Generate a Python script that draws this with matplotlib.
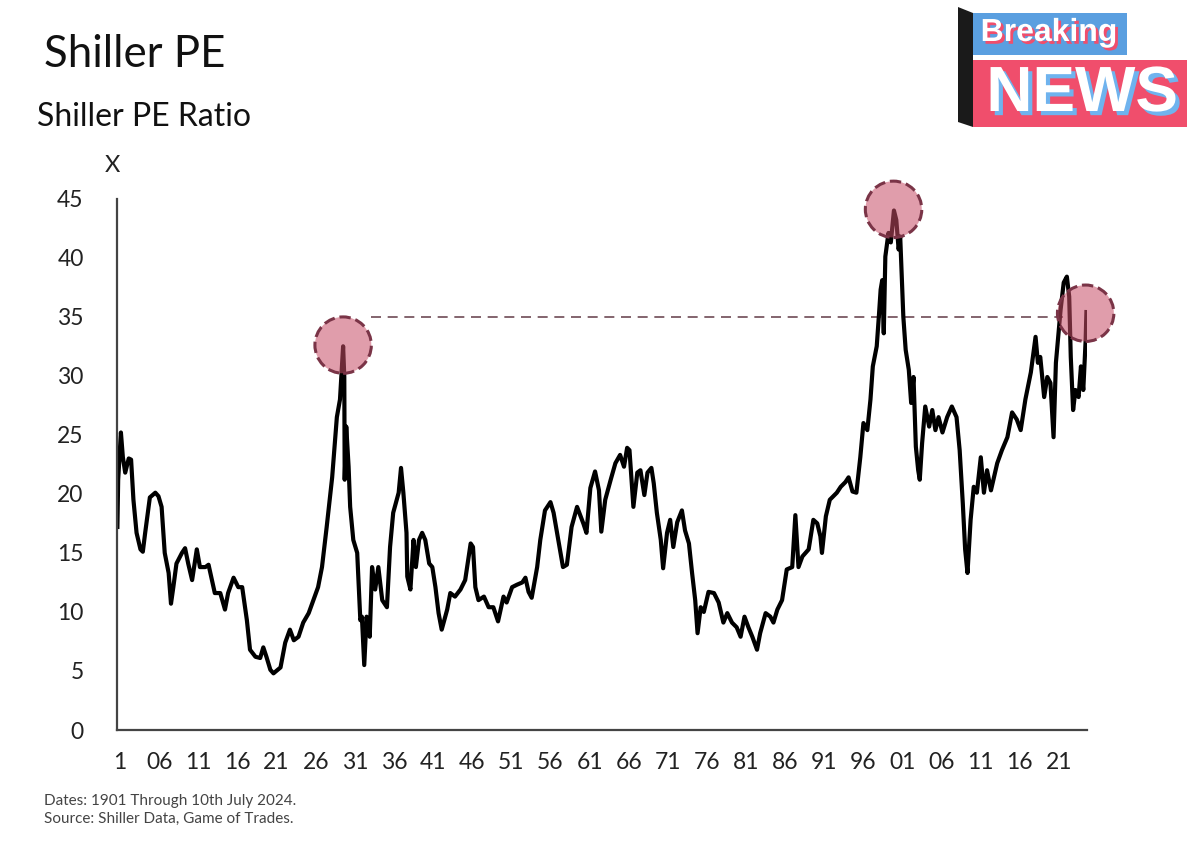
import numpy as np
import matplotlib
matplotlib.use("Agg")
import matplotlib.pyplot as plt
import matplotlib.patheffects as pe
from matplotlib.patches import Polygon, Rectangle

plt.rcParams['font.family'] = ['Lato', 'DejaVu Sans']

# Shiller PE (year, ratio)
years = [1900.65, 1900.75, 1901.1, 1901.35, 1901.65, 1902.1, 1902.4, 1902.7, 1903.1, 1903.6,
         1903.9, 1904.2, 1904.8, 1905.5, 1905.9, 1906.3, 1906.7, 1907.2, 1907.5, 1907.8,
         1908.2, 1908.9, 1909.3, 1909.7, 1910.2, 1910.8, 1911.2, 1911.9, 1912.3, 1913.1,
         1913.8, 1914.4, 1914.8, 1915.5, 1916.1, 1916.6, 1917.2, 1917.6, 1918.3, 1918.9,
         1919.3, 1919.7, 1920.2, 1920.6, 1921.5, 1922.1, 1922.7, 1923.2, 1923.8, 1924.4,
         1925.1, 1925.7, 1926.3, 1926.8, 1927.4, 1928.1, 1928.7, 1929.1, 1929.5, 1929.65,
         1929.7, 1929.9, 1930.2, 1930.4, 1930.8, 1931.3, 1931.7, 1931.9, 1932.2, 1932.5,
         1932.9, 1933.2, 1933.6, 1934.0, 1934.5, 1935.1, 1935.5, 1935.9, 1936.6, 1936.9,
         1937.2, 1937.6, 1937.7, 1938.1, 1938.5, 1938.8, 1939.2, 1939.6, 1940.0, 1940.5,
         1940.9, 1941.3, 1941.7, 1942.1, 1942.8, 1943.2, 1943.8, 1944.5, 1945.1, 1945.8,
         1946.1, 1946.4, 1946.8, 1947.5, 1948.1, 1948.7, 1949.3, 1950.0, 1950.4, 1951.1,
         1951.7, 1952.4, 1952.8, 1953.2, 1953.6, 1954.3, 1954.7, 1955.3, 1956.0, 1956.4,
         1957.0, 1957.6, 1958.1, 1958.7, 1959.4, 1959.8, 1960.2, 1960.6, 1961.1, 1961.7,
         1962.2, 1962.5, 1963.0, 1963.7, 1964.3, 1964.9, 1965.4, 1965.8, 1966.1, 1966.6,
         1967.1, 1967.5, 1968.0, 1968.4, 1968.9, 1969.2, 1969.6, 1970.1, 1970.4, 1970.9,
         1971.3, 1971.7, 1972.2, 1972.8, 1973.2, 1973.7, 1974.1, 1974.5, 1974.8, 1975.2,
         1975.6, 1976.2, 1976.9, 1977.5, 1978.1, 1978.6, 1979.2, 1979.8, 1980.3, 1980.8,
         1981.3, 1981.8, 1982.4, 1982.8, 1983.5, 1984.1, 1984.5, 1985.0, 1985.6, 1986.2,
         1986.9, 1987.3, 1987.7, 1988.2, 1989.0, 1989.6, 1990.1, 1990.5, 1990.7, 1991.2,
         1991.7, 1992.6, 1993.1, 1993.7, 1994.1, 1994.6, 1995.1, 1995.6, 1996.0, 1996.5,
         1996.9, 1997.2, 1997.7, 1998.0, 1998.2, 1998.4, 1998.6, 1998.8, 1999.2, 1999.5,
         1999.9, 2000.2, 2000.5, 2000.7, 2001.1, 2001.4, 2001.8, 2002.1, 2002.4, 2002.7,
         2003.0, 2003.2, 2003.5, 2003.9, 2004.4, 2004.8, 2005.2, 2005.6, 2006.1, 2006.7,
         2007.3, 2007.9, 2008.3, 2008.7, 2009.0, 2009.3, 2009.7, 2010.1, 2010.5, 2011.0,
         2011.4, 2011.8, 2012.3, 2013.1, 2013.7, 2014.4, 2015.0, 2015.6, 2016.1, 2016.7,
         2017.4, 2018.0, 2018.3, 2018.6, 2019.1, 2019.5, 2019.9, 2020.3, 2020.6, 2021.2,
         2021.6, 2022.0, 2022.3, 2022.5, 2022.8, 2023.1, 2023.5, 2023.8, 2024.1, 2024.4,
         2024.5]
pe_ratio = [17.2, 21.2, 25.2, 23.1, 21.8, 23.0, 22.9, 19.5, 16.7, 15.3,
            15.1, 16.7, 19.7, 20.1, 19.8, 18.9, 15.0, 13.3, 10.7, 12.1,
            14.1, 15.0, 15.4, 14.1, 12.7, 15.3, 13.8, 13.8, 14.0, 11.6,
            11.6, 10.2, 11.6, 12.9, 12.1, 12.1, 9.3, 6.8, 6.2, 6.1,
            7.0, 6.2, 5.1, 4.8, 5.3, 7.4, 8.5, 7.6, 7.9, 9.1,
            9.9, 11.0, 12.1, 13.8, 17.2, 21.4, 26.5, 28.0, 32.5, 29.9,
            21.2, 25.7, 22.3, 18.9, 16.1, 15.0, 9.3, 9.6, 5.5, 9.6,
            7.9, 13.8, 11.9, 13.8, 11.0, 10.4, 15.5, 18.4, 20.1, 22.2,
            20.1, 16.7, 13.0, 11.9, 16.1, 13.8, 16.1, 16.7, 16.1, 14.1,
            13.8, 12.1, 9.9, 8.5, 10.2, 11.6, 11.3, 11.9, 12.7, 15.8,
            15.5, 12.1, 11.0, 11.3, 10.4, 10.4, 9.2, 11.3, 10.8, 12.1,
            12.3, 12.5, 12.9, 11.7, 11.2, 13.8, 16.1, 18.6, 19.3, 18.4,
            16.1, 13.8, 14.0, 17.2, 18.9, 18.2, 17.5, 16.7, 20.5, 21.9,
            20.3, 16.8, 19.5, 21.2, 22.6, 23.3, 22.3, 23.9, 23.7, 18.9,
            21.8, 22.0, 19.9, 21.8, 22.2, 20.9, 18.4, 16.1, 13.7, 16.7,
            17.8, 15.5, 17.6, 18.6, 16.9, 15.8, 13.3, 11.0, 8.2, 10.4,
            10.0, 11.7, 11.6, 10.8, 9.1, 9.9, 9.1, 8.7, 7.9, 9.6,
            8.7, 7.9, 6.8, 8.2, 9.9, 9.6, 9.1, 10.2, 11.0, 13.6,
            13.8, 18.2, 13.8, 14.7, 15.3, 17.8, 17.5, 16.4, 15.0, 18.1,
            19.5, 20.1, 20.6, 21.0, 21.4, 20.2, 20.1, 23.1, 26.0, 25.4,
            28.0, 30.8, 32.5, 35.3, 37.3, 38.1, 33.6, 40.1, 42.1, 41.3,
            44.0, 43.2, 40.7, 41.8, 35.0, 32.2, 30.5, 27.7, 29.9, 24.0,
            22.0, 21.2, 24.3, 27.4, 25.7, 27.1, 25.4, 26.5, 25.2, 26.5,
            27.4, 26.5, 23.7, 19.2, 15.3, 13.3, 17.8, 20.6, 20.1, 23.1,
            20.1, 22.0, 20.3, 22.6, 23.7, 24.8, 26.9, 26.3, 25.4, 28.0,
            30.3, 33.3, 31.1, 31.6, 28.2, 29.9, 29.4, 24.8, 31.1, 35.6,
            37.9, 38.4, 36.7, 31.6, 27.1, 28.8, 28.2, 30.8, 28.8, 33.0,
            35.4]

tick_years = list(range(1901, 2022, 5))
tick_labels = ['1'] + ['%02d' % (y % 100) for y in tick_years[1:]]

peak_years = [1929.5, 1999.85, 2024.4]
peak_vals = [32.6, 44.1, 35.3]

ref_level = 35
ref_start, ref_end = 1933.0, 2021.5

fig = plt.figure(figsize=(12, 8.42), dpi=100)
ax = fig.add_axes([0.0975, 0.133, 0.8085, 0.631])

ax.plot(years, pe_ratio, color='black', lw=3.0, solid_joinstyle='round', zorder=2)
ax.plot([ref_start, ref_end], [ref_level, ref_level], ls=(0, (6, 4)), color='#6e4a55',
        lw=1.2, zorder=1)
ax.scatter(peak_years, peak_vals, s=1650, facecolor=(0.78, 0.30, 0.40, 0.55),
           edgecolor='#7a3447', linewidths=2.2, linestyles='--', zorder=3, clip_on=False)

ax.set_xlim(1900.6, 2024.6)
ax.set_ylim(0, 45)
ax.set_yticks(range(0, 46, 5))
ax.set_xticks(tick_years)
ax.set_xticklabels(tick_labels)
for s in ['top', 'right']:
    ax.spines[s].set_visible(False)
for s in ['left', 'bottom']:
    ax.spines[s].set_color('#444444')
    ax.spines[s].set_linewidth(1.6)
ax.tick_params(axis='both', length=0, labelsize=16.5, colors='#222222')
ax.tick_params(axis='y', pad=24)
ax.tick_params(axis='x', pad=16)

fig.text(0.094, 0.804, 'X', fontsize=17, color='#222222', ha='center', va='center')
fig.text(0.037, 0.935, 'Shiller PE', fontsize=31.5, color='#111111', va='center')
fig.text(0.031, 0.861, 'Shiller PE Ratio', fontsize=23, color='#111111', va='center')
fig.text(0.037, 0.049, 'Dates: 1901 Through 10th July 2024.', fontsize=11, color='#444444', va='center')
fig.text(0.037, 0.028, 'Source: Shiller Data, Game of Trades.', fontsize=11, color='#444444', va='center')

# "Breaking NEWS" badge, top right (figure pixel coords)
W, H = 1200.0, 842.0
def fx(x): return x / W
def fy(y): return 1 - y / H

fig.patches.append(Polygon([(fx(958), fy(7)), (fx(973), fy(13)), (fx(973), fy(127)), (fx(958), fy(122))],
                           closed=True, transform=fig.transFigure, facecolor='#1a1a1a', edgecolor='none'))
fig.patches.append(Rectangle((fx(973), fy(55)), fx(1127) - fx(973), fy(13) - fy(55),
                             transform=fig.transFigure, facecolor='#5a9fe0', edgecolor='none'))
fig.patches.append(Rectangle((fx(973), fy(127)), fx(1187) - fx(973), fy(60) - fy(127),
                             transform=fig.transFigure, facecolor='#f04e6c', edgecolor='none'))
fig.text(fx(1049), fy(33), 'Breaking', fontsize=23, fontweight='bold', color='white',
         family=['Liberation Sans', 'DejaVu Sans'], ha='center', va='center',
         path_effects=[pe.SimplePatchShadow(offset=(2, -2), shadow_rgbFace='#f04e6c', alpha=1), pe.Normal()])
fig.text(fx(1082), fy(94), 'NEWS', fontsize=46, fontweight='bold', color='white',
         family=['Liberation Sans', 'DejaVu Sans'], ha='center', va='center',
         path_effects=[pe.SimplePatchShadow(offset=(3, -3), shadow_rgbFace='#6fb3ee', alpha=1), pe.Normal()])

fig.savefig('out.png', dpi=100)
